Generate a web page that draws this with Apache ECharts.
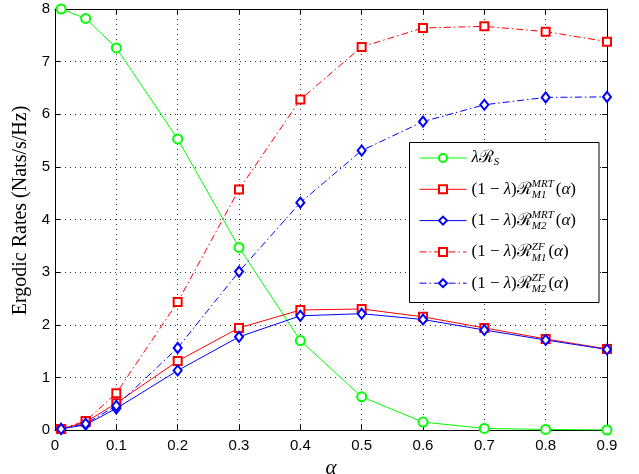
<!DOCTYPE html>
<html><head><meta charset="utf-8">
<script src="https://cdn.jsdelivr.net/npm/echarts@6/dist/echarts.min.js"></script>
<style>html,body{margin:0;padding:0;background:#fff}#c{width:639px;height:474px}</style>
</head><body><div id="c"></div><script>
// ---- data ----
const alpha    = [0.01, 0.05, 0.1, 0.2, 0.3, 0.4, 0.5, 0.6, 0.7, 0.8, 0.9];
const rateS    = [8.00, 7.82, 7.26, 5.53, 3.47, 1.70, 0.63, 0.15, 0.03, 0.01, 0.00];
const rateMRT1 = [0.02, 0.15, 0.51, 1.31, 1.94, 2.28, 2.30, 2.15, 1.94, 1.73, 1.54];
const rateMRT2 = [0.02, 0.10, 0.41, 1.13, 1.77, 2.17, 2.21, 2.10, 1.90, 1.71, 1.53];
const rateZF1  = [0.02, 0.17, 0.70, 2.43, 4.57, 6.28, 7.28, 7.64, 7.67, 7.57, 7.38];
const rateZF2  = [0.02, 0.12, 0.46, 1.56, 3.01, 4.32, 5.31, 5.86, 6.18, 6.32, 6.33];
const xMin = 0, xMax = 0.9, xStep = 0.1;
const yMin = 0, yMax = 8, yStep = 1;
const yName = 'Ergodic Rates (Nats/s/Hz)';
const names = ['S', 'MRT1', 'MRT2', 'ZF1', 'ZF2'];
const supText = {MRT1: 'MRT', MRT2: 'MRT', ZF1: 'ZF', ZF2: 'ZF'};
const subText = {MRT1: 'M1', MRT2: 'M2', ZF1: 'M1', ZF2: 'M2'};

// ---- layout ----
const SERIF = '"Liberation Serif", "DejaVu Serif", serif';
const SANS = '"Liberation Sans", Arial, sans-serif';
const mainFs = 17, smallFs = 11;
const cv = document.createElement('canvas').getContext('2d');
function tw(txt, font) { cv.font = font; return cv.measureText(txt).width; }
const mainFont = mainFs + 'px ' + SERIF, itFont = 'italic ' + mainFs + 'px ' + SERIF, smFont = 'italic ' + smallFs + 'px ' + SERIF;
const prefixW = tw('(1 − ', mainFont) + tw('λ', itFont) + tw(')ℛ', mainFont);
const gapMRT = Math.max(tw('MRT', smFont), tw('M1', smFont)) + 2;
const gapZF = Math.max(tw('ZF', smFont), tw('M1', smFont)) + 2;
// y-axis title sized to span ~206px like the reference
const yNameFs = Math.max(16, Math.min(21, Math.round(20 * 206 / tw(yName, '20px ' + SERIF))));

const legLeft = 410, legTop = 143, legPadL = 9, legPadT = 5, itemW = 47, lineH = 20, itemGap = 11.3;
const textX = legLeft + legPadL + itemW + 5;

const graphics = [{
  type: 'rect', z: 3, shape: {x: 409.5, y: 142.5, width: 189.5, height: 160},
  style: {fill: '#fff', stroke: '#000', lineWidth: 1}
}];
names.forEach((n, i) => {
  if (!supText[n]) return;
  const cy = legTop + legPadT + lineH / 2 + i * (lineH + itemGap);
  graphics.push({type: 'text', z: 6, x: textX + prefixW + 0.5, y: cy - 5,
    style: {text: supText[n], font: smFont, fill: '#000', verticalAlign: 'middle', align: 'left'}});
  graphics.push({type: 'text', z: 6, x: textX + prefixW + 0.5, y: cy + 6,
    style: {text: subText[n], font: smFont, fill: '#000', verticalAlign: 'middle', align: 'left'}});
});

const dashDot = [7, 3, 1.5, 3];
function mk(name, data, color, symbol, size, dash) {
  return {
    name: name, type: 'line', data: alpha.map((a, i) => [a, data[i]]),
    symbol: symbol, symbolSize: size, showSymbol: true,
    itemStyle: {color: color, borderWidth: 1},
    lineStyle: {color: color, width: 1, type: dash || 'solid'},
    z: 2, animation: false
  };
}

const chart = echarts.init(document.getElementById('c'), null, {renderer: 'canvas'});
const axisCommon = {
  axisLine: {show: true, onZero: false, lineStyle: {color: '#000', width: 1}},
  axisTick: {show: true, inside: true, length: 5, lineStyle: {color: '#000'}},
};
chart.setOption({
  animation: false,
  backgroundColor: '#fff',
  grid: {left: 55, right: 32, top: 9, bottom: 44, show: false, containLabel: false, outerBoundsMode: 'none'},
  xAxis: [
    Object.assign({type: 'value', min: xMin, max: xMax, interval: xStep, position: 'bottom',
      name: 'α', nameLocation: 'middle', nameGap: 20,
      nameTextStyle: {fontFamily: SERIF, fontStyle: 'italic', fontSize: 21, color: '#000'},
      axisLabel: {color: '#000', fontFamily: SANS, fontSize: 15, margin: 8},
      splitLine: {show: true, lineStyle: {color: '#333', type: [1, 4], width: 1}}}, axisCommon),
    Object.assign({type: 'value', min: xMin, max: xMax, interval: xStep, position: 'top',
      axisLabel: {show: false}, splitLine: {show: false}}, axisCommon)
  ],
  yAxis: [
    Object.assign({type: 'value', min: yMin, max: yMax, interval: yStep, position: 'left',
      name: yName, nameLocation: 'middle', nameGap: 22,
      nameTextStyle: {fontFamily: SERIF, fontSize: yNameFs, color: '#000', padding: [0, 0, 0, 18]},
      axisLabel: {color: '#000', fontFamily: SANS, fontSize: 15, margin: 5},
      splitLine: {show: true, lineStyle: {color: '#333', type: [1, 4], width: 1}}}, axisCommon),
    Object.assign({type: 'value', min: yMin, max: yMax, interval: yStep, position: 'right',
      axisLabel: {show: false}, splitLine: {show: false}}, axisCommon)
  ],
  legend: {
    orient: 'vertical', left: legLeft, top: legTop, padding: [legPadT, 0, 0, legPadL],
    itemWidth: itemW, itemHeight: 10, itemGap: itemGap, z: 5,
    data: names, selectedMode: false,
    lineStyle: {width: 1},
    itemStyle: {borderWidth: 1},
    formatter: function (n) {
      if (n === 'S') return '{i|λ}{m|ℛ}{s|S}';
      const g = n.indexOf('MRT') === 0 ? 'gm' : 'gz';
      return '{m|(1 − }{i|λ}{m|)ℛ}{' + g + '|}{m|(}{i|α}{m|)}';
    },
    textStyle: {
      fontFamily: SERIF, fontSize: mainFs, lineHeight: lineH, color: '#000',
      rich: {
        m: {fontFamily: SERIF, fontSize: mainFs, lineHeight: lineH, color: '#000'},
        i: {fontFamily: SERIF, fontSize: mainFs, fontStyle: 'italic', lineHeight: lineH, color: '#000'},
        s: {fontFamily: SERIF, fontSize: smallFs, fontStyle: 'italic', lineHeight: lineH, verticalAlign: 'bottom', color: '#000', padding: [6, 0, 0, 0]},
        gm: {width: gapMRT, lineHeight: lineH},
        gz: {width: gapZF, lineHeight: lineH}
      }
    }
  },
  graphic: graphics,
  series: [
    mk('S', rateS, '#00ff00', 'emptyCircle', 9),
    mk('MRT1', rateMRT1, '#ff0000', 'emptyRect', 8),
    mk('MRT2', rateMRT2, '#0000ff', 'emptyDiamond', [8, 10]),
    mk('ZF1', rateZF1, '#ff0000', 'emptyRect', 8, dashDot),
    mk('ZF2', rateZF2, '#0000ff', 'emptyDiamond', [8, 10], dashDot)
  ]
});
</script></body></html>
